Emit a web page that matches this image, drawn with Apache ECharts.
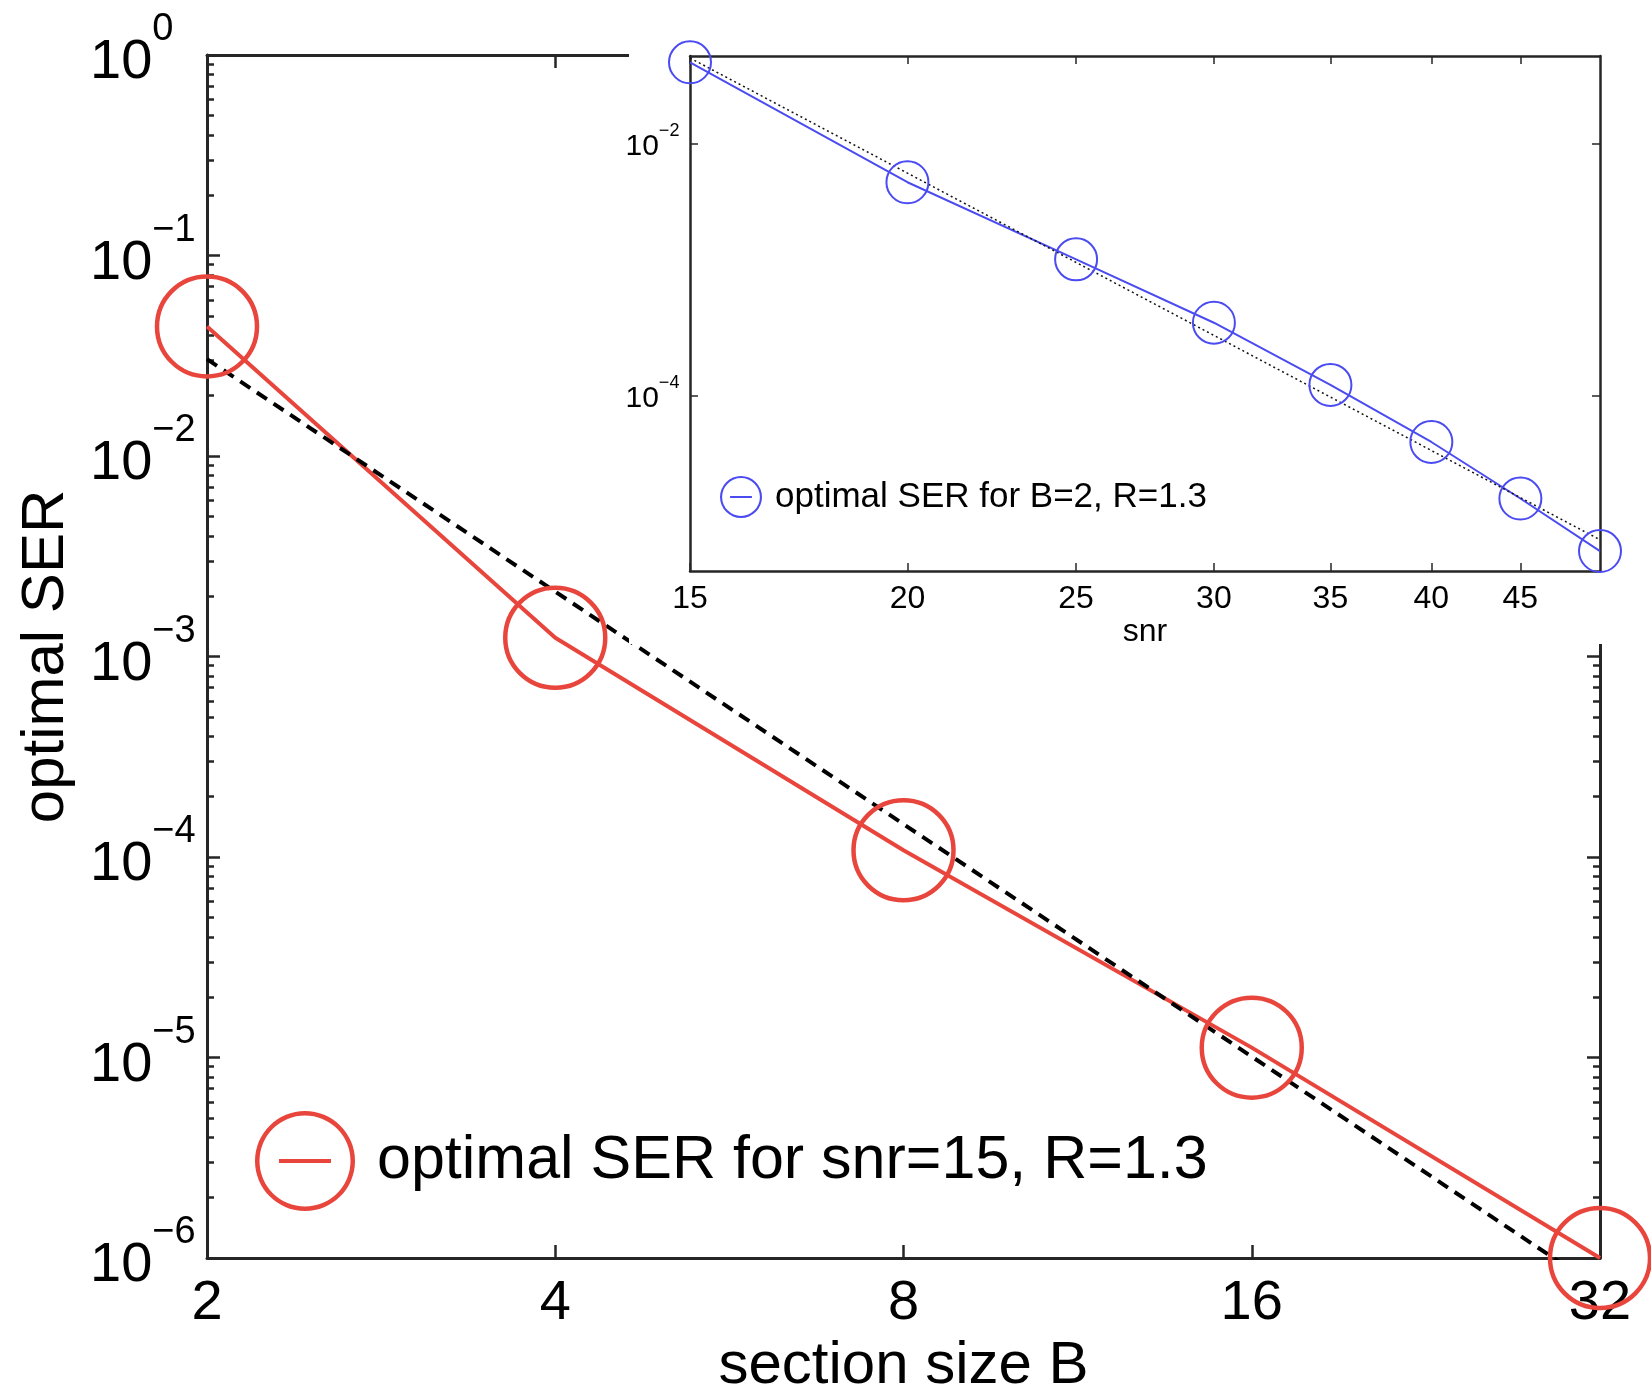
<!DOCTYPE html>
<html>
<head>
<meta charset="utf-8">
<title>optimal SER</title>
<script src="https://cdn.jsdelivr.net/npm/echarts@6/dist/echarts.min.js"></script>
<style>
  html, body { margin: 0; padding: 0; background: #fff; }
  #chart { width: 1651px; height: 1384px; }
</style>
</head>
<body>
<div id="chart"></div>
<script>
// main plot: SER against section size B (snr=15, R=1.3)
var sectionSizes = [2, 4, 8, 16, 32];
var serBySection = [0.0443, 0.00124, 0.000108, 0.0000112, 0.000001];
// dashed reference line, its two ends
var refSectionX = [2, 32];
var refSectionY = [0.0304, 0.0000007];

// inset: SER against snr (B=2, R=1.3)
var snrValues = [15, 20, 25, 30, 35, 40, 45, 50];
var serBySnr = [0.0443, 0.00495, 0.00121, 0.00038, 0.000122, 0.000043, 0.0000153, 0.00000586];
// dotted reference line of the inset
var refSnrX = [15, 50];
var refSnrY = [0.0479, 0.0000072];

// ticks
var sectionTicks = [2, 4, 8, 16, 32];
var serTicks = [1e-6, 1e-5, 1e-4, 1e-3, 1e-2, 1e-1, 1];
var snrTicks = [15, 20, 25, 30, 35, 40, 45];
var insetSerTicks = [1e-4, 1e-2];

var mainName = 'optimal SER for snr=15, R=1.3';
var insetName = 'optimal SER for B=2, R=1.3';

var RED = '#e8453c';
var BLUE = '#4b4bf2';
var AXIS = '#262626';
var FONT = '"Liberation Sans", Arial, Helvetica, sans-serif';

// 2..9 times each decade, for the small ticks of the main y axis
var minorSerTicks = [];
serTicks.slice(0, -1).forEach(function (d) {
  for (var m = 2; m <= 9; m++) minorSerTicks.push(m * d);
});

function zip(xs, ys) {
  return xs.map(function (x, i) { return [x, ys[i]]; });
}

function expLabel(v) {
  var e = Math.round(Math.log10(v));
  return '{b|10}{s|' + (e < 0 ? '\u2212' + (-e) : e) + '}';
}

// hollow circle with a short bar, like the matlab legend marker
var mainIcon = 'path://M0,50A50,50,0,1,0,100,50A50,50,0,1,0,0,50Z' +
  'M4.5,50A45.5,45.5,0,1,1,95.5,50A45.5,45.5,0,1,1,4.5,50Z' +
  'M24,48L76,48L76,52L24,52Z';
var insetIcon = 'path://M0,50A50,50,0,1,0,100,50A50,50,0,1,0,0,50Z' +
  'M5,50A45,45,0,1,1,95,50A45,45,0,1,1,5,50Z' +
  'M24,47.5L76,47.5L76,52.5L24,52.5Z';

var mainLine = { color: AXIS, width: 3 };
var mainTick = { color: AXIS, width: 2.5 };
var insetLine = { color: AXIS, width: 2.5 };
var insetTick = { color: AXIS, width: 1.5 };

var chart = echarts.init(document.getElementById('chart'));

var option = {
  animation: false,
  backgroundColor: '#fff',
  textStyle: { fontFamily: FONT },
  grid: [
    { left: 207, top: 55, width: 1393, height: 1203, containLabel: false, outerBoundsMode: 'none' },
    { left: 690, top: 56, width: 910, height: 515, containLabel: false, outerBoundsMode: 'none', z: 5 }
  ],
  // white patch behind the inset, it hides the main box there
  graphic: [
    { type: 'rect', z: 3, silent: true, shape: { x: 629, y: 0, width: 1022, height: 644 }, style: { fill: '#fff' } }
  ],
  legend: [
    {
      data: [mainName],
      left: 255, top: 1111, padding: 0,
      icon: mainIcon, itemWidth: 100, itemHeight: 100,
      selectedMode: false,
      itemStyle: { color: RED, borderWidth: 0 },
      textStyle: { fontFamily: FONT, fontSize: 61, color: '#000', padding: [0, 0, 0, 17] }
    },
    {
      data: [insetName],
      left: 720, top: 476, padding: 0, z: 7,
      icon: insetIcon, itemWidth: 42, itemHeight: 42,
      selectedMode: false,
      itemStyle: { color: BLUE, borderWidth: 0 },
      textStyle: { fontFamily: FONT, fontSize: 35, color: '#000', padding: [0, 0, 0, 8] }
    }
  ],
  xAxis: [
    {
      type: 'log', logBase: 2, gridIndex: 0, position: 'bottom', min: 2, max: 32,
      axisLine: { show: true, lineStyle: mainLine },
      axisTick: { show: true, inside: true, length: 13, lineStyle: mainTick, customValues: sectionTicks },
      axisLabel: {
        customValues: sectionTicks, margin: 18, color: '#000', fontSize: 56, fontFamily: FONT,
        formatter: function (v) { return String(Math.round(v)); }
      },
      splitLine: { show: false },
      name: 'section size B', nameLocation: 'middle', nameGap: 69,
      nameTextStyle: { fontSize: 60, color: '#000', fontFamily: FONT }
    },
    {
      type: 'log', logBase: 2, gridIndex: 0, position: 'top', min: 2, max: 32,
      axisLine: { show: true, lineStyle: mainLine },
      axisTick: { show: true, inside: true, length: 13, lineStyle: mainTick, customValues: sectionTicks },
      axisLabel: { show: false },
      splitLine: { show: false }
    },
    {
      type: 'log', gridIndex: 1, position: 'bottom', min: 15, max: 50, z: 5,
      axisLine: { show: true, lineStyle: insetLine },
      axisTick: { show: true, inside: true, length: 8, lineStyle: insetTick, customValues: snrTicks },
      axisLabel: { customValues: snrTicks, margin: 12, color: '#000', fontSize: 32, fontFamily: FONT },
      splitLine: { show: false },
      name: 'snr', nameLocation: 'middle', nameGap: 39,
      nameTextStyle: { fontSize: 32, color: '#000', fontFamily: FONT }
    },
    {
      type: 'log', gridIndex: 1, position: 'top', min: 15, max: 50, z: 5,
      axisLine: { show: true, lineStyle: insetLine },
      axisTick: { show: true, inside: true, length: 8, lineStyle: insetTick, customValues: snrTicks },
      axisLabel: { show: false },
      splitLine: { show: false }
    }
  ],
  yAxis: [
    {
      type: 'log', gridIndex: 0, position: 'left', min: 1e-6, max: 1,
      axisLine: { show: true, lineStyle: mainLine },
      axisTick: { show: true, inside: true, length: 13, lineStyle: mainTick, customValues: serTicks },
      axisLabel: {
        customValues: serTicks, formatter: expLabel, align: 'left', margin: 117,
        padding: [0, 0, 8, 0], color: '#000',
        rich: {
          b: { fontSize: 56, lineHeight: 80, verticalAlign: 'bottom', color: '#000', fontFamily: FONT },
          s: { fontSize: 38, lineHeight: 20, verticalAlign: 'top', color: '#000', fontFamily: FONT }
        }
      },
      splitLine: { show: false },
      name: 'optimal SER', nameLocation: 'middle', nameGap: 131,
      nameTextStyle: { fontSize: 60, color: '#000', fontFamily: FONT }
    },
    {
      type: 'log', gridIndex: 0, position: 'right', min: 1e-6, max: 1,
      axisLine: { show: true, lineStyle: mainLine },
      axisTick: { show: true, inside: true, length: 13, lineStyle: mainTick, customValues: serTicks },
      axisLabel: { show: false },
      splitLine: { show: false }
    },
    {
      type: 'log', gridIndex: 0, position: 'left', min: 1e-6, max: 1,
      axisLine: { show: false },
      axisTick: { show: true, inside: true, length: 7, lineStyle: mainTick, customValues: minorSerTicks },
      axisLabel: { show: false },
      splitLine: { show: false }
    },
    {
      type: 'log', gridIndex: 0, position: 'right', min: 1e-6, max: 1,
      axisLine: { show: false },
      axisTick: { show: true, inside: true, length: 7, lineStyle: mainTick, customValues: minorSerTicks },
      axisLabel: { show: false },
      splitLine: { show: false }
    },
    {
      type: 'log', gridIndex: 1, position: 'left', min: 0.00000407, max: 0.0497, z: 5,
      axisLine: { show: true, lineStyle: insetLine },
      axisTick: { show: true, inside: true, length: 8, lineStyle: insetTick, customValues: insetSerTicks },
      axisLabel: {
        customValues: insetSerTicks, formatter: expLabel, align: 'left', margin: 64.5, color: '#000',
        padding: [0, 0, 4, 0],
        rich: {
          b: { fontSize: 30, lineHeight: 40, verticalAlign: 'bottom', color: '#000', fontFamily: FONT },
          s: { fontSize: 18, lineHeight: 12, verticalAlign: 'top', color: '#000', fontFamily: FONT }
        }
      },
      splitLine: { show: false }
    },
    {
      type: 'log', gridIndex: 1, position: 'right', min: 0.00000407, max: 0.0497, z: 5,
      axisLine: { show: true, lineStyle: insetLine },
      axisTick: { show: true, inside: true, length: 8, lineStyle: insetTick, customValues: insetSerTicks },
      axisLabel: { show: false },
      splitLine: { show: false }
    }
  ],
  series: [
    {
      name: mainName, type: 'line', xAxisIndex: 0, yAxisIndex: 0,
      data: zip(sectionSizes, serBySection),
      symbol: 'circle', symbolSize: 100, showAllSymbol: true, clip: false, silent: true,
      lineStyle: { color: RED, width: 4 },
      itemStyle: { color: 'transparent', borderColor: RED, borderWidth: 4.5 },
      emphasis: { disabled: true },
      z: 2
    },
    {
      name: 'main reference', type: 'line', xAxisIndex: 0, yAxisIndex: 0,
      data: zip(refSectionX, refSectionY),
      symbol: 'none', silent: true, clip: true,
      lineStyle: { color: '#000', width: 4, type: [12, 8] },
      emphasis: { disabled: true },
      z: 2
    },
    {
      name: insetName, type: 'line', xAxisIndex: 2, yAxisIndex: 4,
      data: zip(snrValues, serBySnr),
      symbol: 'circle', symbolSize: 42, showAllSymbol: true, clip: false, silent: true,
      lineStyle: { color: BLUE, width: 2 },
      itemStyle: { color: 'transparent', borderColor: BLUE, borderWidth: 2 },
      emphasis: { disabled: true },
      z: 6
    },
    {
      name: 'inset reference', type: 'line', xAxisIndex: 2, yAxisIndex: 4,
      data: zip(refSnrX, refSnrY),
      symbol: 'none', silent: true,
      lineStyle: { color: '#111', width: 1.5, type: [2, 3] },
      emphasis: { disabled: true },
      z: 6
    }
  ]
};

chart.setOption(option);
</script>
</body>
</html>
